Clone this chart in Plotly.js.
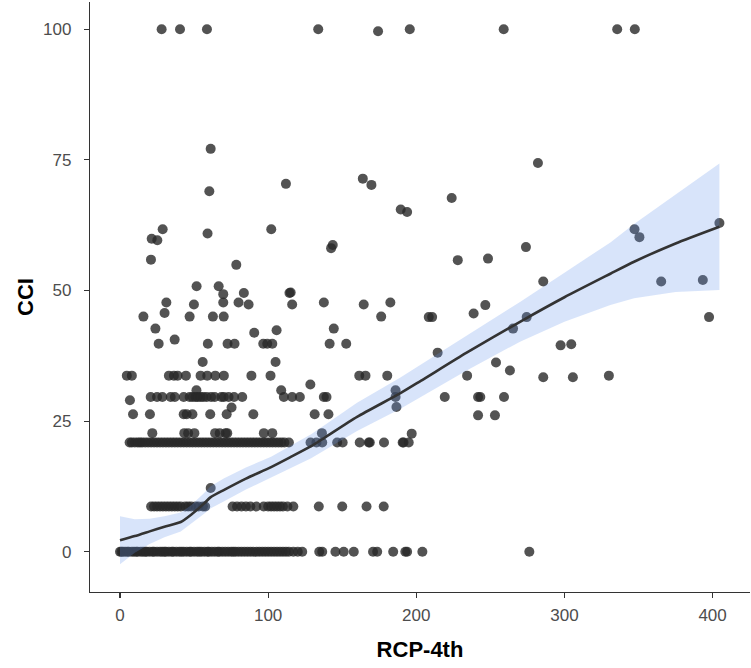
<!DOCTYPE html>
<html>
<head>
<meta charset="utf-8">
<script src="https://cdn.plot.ly/plotly-3.0.1.min.js"></script>
<style>
  html, body { margin: 0; padding: 0; background: #ffffff; }
  #chart { width: 751px; height: 668px; }
</style>
</head>
<body>
<div id="chart"></div>
<script>
// ---- Data ----
// Dense horizontal rows of points (RCP-4th values) at fixed CCI levels
const rowZeroCCI = 0;
const rowZeroX = [0, 1, 2, 3.5, 5, 6, 8, 9.5, 11, 12, 14, 15.5, 17, 18, 20, 22, 23, 25, 27, 28.5, 30, 31, 33, 35, 36, 38, 40, 41.5, 43, 45, 47, 48, 50, 52, 53.5, 55, 57, 59, 60, 62, 64, 66, 67, 69, 71, 73, 75, 76.5, 78, 80, 82, 84, 86, 88, 90, 92, 94, 96, 98, 100, 102, 104, 106, 108, 110, 112, 114, 117, 120, 123,
  134.5, 136.5, 145.4, 151, 157.8, 170.8, 173.6, 184.4, 192.6, 193.8, 204.1, 276.3];

const rowNineCCI = 8.65;
const rowNineX = [21, 23, 25, 27, 29, 31, 33, 35, 37, 39, 41, 44, 46, 48, 51, 53, 56, 57.5,
  76, 79, 82, 85, 88, 92, 97, 100, 102, 104, 106, 108, 110, 113, 117,
  134.2, 150, 166.4, 178];

const rowTwentyOneCCI = 20.9;
const rowTwentyOneX = [6.5, 8, 10, 12, 13.5, 15, 17, 19, 21, 23, 25, 27, 29, 31, 33, 35, 37, 39, 41, 43, 45, 47, 49, 51, 53, 55, 57, 59, 61, 63, 65, 67, 69, 71, 73, 75, 77, 79, 81, 83, 85, 87, 89, 91, 93, 95, 97, 99, 101, 103, 105, 107, 109, 111, 114,
  128.6, 132.6, 136.5, 146.6, 150.3, 161.8, 167.9, 168.6, 178.2, 190.8, 191.4, 194.9];

// Remaining individual points
const scatterX = [
  28.1, 40.5, 58.7, 133.8, 174.2, 195.6, 259, 335.6, 347.5,
  61.2, 112, 163.9, 169.7, 60.3, 189.5, 193.8, 28.8, 59.1, 102.1, 21.4, 25.2, 143.6, 142.5, 20.9, 78.5,
  51.7, 66.6, 69.7, 83.6, 114.4, 115.2,
  282.1, 223.9, 404.6, 347.3, 350.6, 274, 228, 248.4, 285.7, 365.3, 393.4, 246.6, 238.7, 208.4, 210.7, 274.5, 397.6, 265.3, 214.4, 297.4, 304.6, 253.8, 263.2, 234.3, 285.7, 305.7, 330, 219.2, 241.7, 243.2, 259.2, 241.7, 253.1, 196.9,
  31.3, 49.9, 69.7, 80, 86.8, 116.2, 137.6, 164.5, 182.5,
  15.8, 30.1, 47, 62.7, 70, 176.3,
  23.9, 144.3, 105.7, 90.6, 36.9,
  26.1, 59.3, 72.6, 77.3, 96.7, 99.4, 102.8, 141.5, 152.7,
  55.8, 105,
  4.6, 8, 33, 36.4, 38.9, 44.5, 54.4, 58.9, 64.3, 70.1, 88.7, 101.6, 161.5, 165.7, 180.4,
  51.6, 128.5, 108.8, 186,
  6.7, 20.7, 25, 28.6, 34.2, 37, 43, 47, 49, 51, 52.5, 54.4, 56.2, 58.5, 61.5, 63.9, 68.4, 70.1, 73.3, 77, 82.5, 110.6, 116.2, 121.4, 137.6, 139.4, 186,
  75.3, 186.6,
  8.8, 20.2, 43, 45, 48.9, 60.9, 72, 90, 131.4, 140.7,
  21.8, 43.4, 46, 50.2, 64.2, 67.3, 71.3, 72.4, 97.1, 102.8, 136.3,
  61.2
];
const scatterY = [
  100, 100, 100, 100, 99.6, 100, 100, 100, 100,
  77.1, 70.4, 71.4, 70.2, 69.0, 65.5, 65.0, 61.7, 60.9, 61.7, 59.9, 59.6, 58.7, 58.1, 55.9, 54.9,
  50.8, 50.8, 49.3, 49.5, 49.5, 49.6,
  74.4, 67.7, 62.9, 61.7, 60.2, 58.3, 55.8, 56.1, 51.7, 51.7, 52.0, 47.2, 45.6, 44.9, 44.9, 44.9, 44.9, 42.7, 38.1, 39.5, 39.7, 36.2, 34.7, 33.7, 33.4, 33.4, 33.7, 29.6, 29.6, 29.6, 29.6, 26.1, 26.1, 22.6,
  47.7, 47.3, 47.7, 47.7, 47.3, 47.3, 47.7, 47.3, 47.7,
  45.0, 45.7, 45.0, 45.0, 45.0, 45.0,
  42.7, 42.7, 42.4, 41.9, 40.6,
  39.8, 39.8, 39.8, 39.8, 39.8, 39.8, 39.8, 39.8, 39.8,
  36.3, 36.3,
  33.7, 33.7, 33.7, 33.7, 33.7, 33.7, 33.7, 33.7, 33.7, 33.7, 33.7, 33.7, 33.7, 33.7, 33.7,
  30.9, 32.0, 30.9, 30.9,
  29.0, 29.6, 29.6, 29.6, 29.6, 29.6, 29.6, 29.6, 29.6, 29.6, 29.6, 29.6, 29.6, 29.6, 29.6, 29.6, 29.6, 29.6, 29.6, 29.6, 29.6, 29.6, 29.6, 29.6, 29.6, 29.6, 29.6,
  27.6, 27.7,
  26.3, 26.3, 26.3, 26.3, 26.3, 26.3, 26.3, 26.3, 26.3, 26.3,
  22.7, 22.7, 22.7, 22.7, 22.7, 22.7, 22.7, 22.7, 22.7, 22.7, 22.7,
  12.2
];

// Smoothed fit (loess) with confidence band
const smoothX  = [0, 10, 20, 30, 41, 48, 57, 61, 70, 85, 102, 115, 129, 138, 160, 189, 203, 234, 270, 300, 331, 347, 375, 404.6];
const smoothY  = [2.2, 3.0, 3.9, 4.8, 5.7, 7.1, 9.3, 10.4, 11.8, 14.0, 16.2, 18.1, 20.2, 21.8, 25.8, 30.3, 32.7, 38.1, 44.0, 48.7, 53.2, 55.5, 59.0, 62.2];
const smoothLo = [-2.4, -0.2, 1.5, 2.8, 3.9, 5.3, 7.3, 8.3, 9.6, 11.9, 14.2, 16.0, 17.9, 19.4, 23.1, 27.3, 29.6, 34.7, 40.2, 44.0, 47.2, 48.5, 49.7, 50.1];
const smoothHi = [6.8, 6.2, 6.3, 6.8, 7.5, 8.9, 11.3, 12.5, 14.0, 16.1, 18.2, 20.2, 22.5, 24.2, 28.5, 33.3, 35.8, 41.5, 47.8, 53.4, 59.2, 62.7, 68.4, 74.3];

const xTicks = [0, 100, 200, 300, 400];
const yTicks = [0, 25, 50, 75, 100];
const xLabel = 'RCP-4th';
const yLabel = 'CCI';

// ---- Build traces ----
const allX = [].concat(rowZeroX, rowNineX, rowTwentyOneX, scatterX);
const allY = [].concat(
  rowZeroX.map(() => rowZeroCCI),
  rowNineX.map(() => rowNineCCI),
  rowTwentyOneX.map(() => rowTwentyOneCCI),
  scatterY
);

const pointsTrace = {
  type: 'scatter', mode: 'markers',
  x: allX, y: allY,
  marker: { size: 10, color: 'rgba(40,40,40,0.8)', line: { width: 0 } },
  hoverinfo: 'x+y', showlegend: false
};

const bandTrace = {
  type: 'scatter', mode: 'lines',
  x: smoothX.concat(smoothX.slice().reverse()),
  y: smoothHi.concat(smoothLo.slice().reverse()),
  fill: 'toself', fillcolor: 'rgba(100,149,237,0.25)',
  line: { width: 0, color: 'rgba(0,0,0,0)' },
  hoverinfo: 'skip', showlegend: false
};

const lineTrace = {
  type: 'scatter', mode: 'lines',
  x: smoothX, y: smoothY,
  line: { color: '#333333', width: 2.6, shape: 'spline', smoothing: 0.6 },
  hoverinfo: 'skip', showlegend: false
};

const fontFamily = 'Liberation Sans, Arial, sans-serif';
const titleFont = { family: fontFamily, size: 22, color: '#000000', weight: 'bold' };
const axisCommon = {
  showline: true, linecolor: '#333333', linewidth: 1.2,
  ticks: 'outside', ticklen: 5, tickwidth: 1.2, tickcolor: '#333333',
  tickfont: { family: fontFamily, size: 17, color: '#4d4d4d' },
  showgrid: false, zeroline: false, mirror: false
};

const layout = {
  width: 751, height: 668,
  margin: { l: 90, r: 1, t: 2, b: 76 },
  paper_bgcolor: '#ffffff', plot_bgcolor: '#ffffff',
  showlegend: false,
  xaxis: Object.assign({}, axisCommon, {
    range: [-20.25, 425.25], tickmode: 'array', tickvals: xTicks,
    ticktext: xTicks.map(String), ticklabelstandoff: 2,
    title: { text: xLabel, font: titleFont, standoff: 18 }
  }),
  yaxis: Object.assign({}, axisCommon, {
    range: [-7.7, 105.2], tickmode: 'array', tickvals: yTicks,
    ticktext: yTicks.map(String), ticklabelstandoff: 9,
    title: { text: yLabel, font: titleFont, standoff: 3 }
  })
};

Plotly.newPlot('chart', [pointsTrace, bandTrace, lineTrace], layout, { displayModeBar: false, staticPlot: true });
</script>
</body>
</html>
